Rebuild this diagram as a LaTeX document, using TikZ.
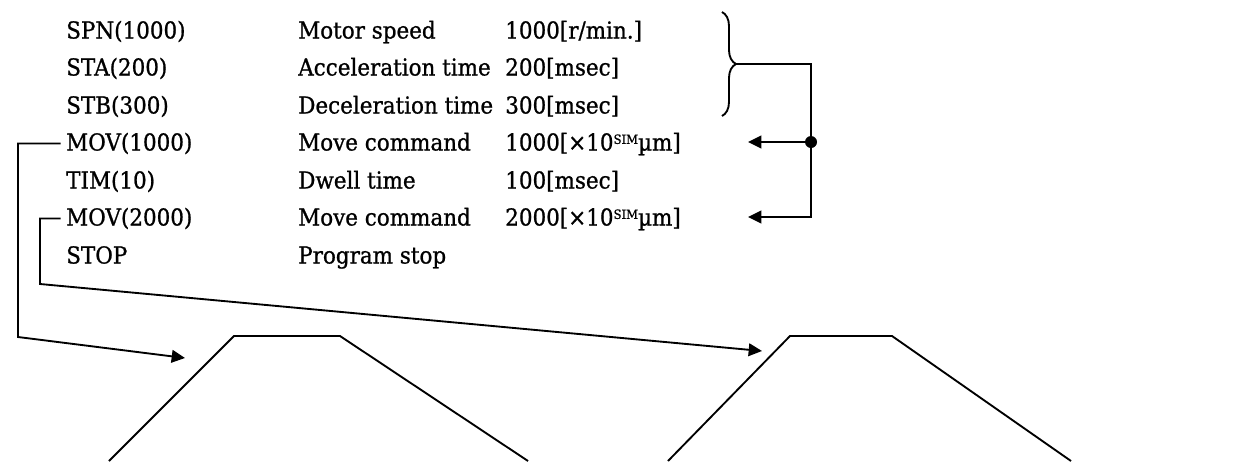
\documentclass[tikz,border=0pt]{standalone}
\usepackage{fontspec}
\setmainfont{DejaVu Serif}[FakeStretch=0.92, FakeBold=0.9]
\usetikzlibrary{arrows.meta,decorations.pathreplacing}

\newcommand{\simunit}{\raisebox{0.55ex}{\fontsize{9.5}{10}\selectfont SIM}}

\begin{document}
\begin{tikzpicture}[
  x=0.75pt, y=-0.75pt,
  font=\fontsize{17.5}{21}\selectfont,
  cmd/.style={anchor=base west, inner sep=0pt},
  line/.style={line width=1.4pt, draw=black},
  arr/.style={line, -{Triangle[length=10pt, width=9.5pt]}},
  trap/.style={line width=1.4pt, line join=miter}
]
\useasboundingbox (0,0) rectangle (1247,461);

% ---------------- program listing ----------------
\node[cmd] (spn)  at (66,38.5)  {SPN(1000)};
\node[cmd] (sta)  at (66,75.5)  {STA(200)};
\node[cmd] (stb)  at (66,113.5) {STB(300)};
\node[cmd] (mova) at (66,150.5) {MOV(1000)};
\node[cmd] (tim)  at (66,188.5) {TIM(10)};
\node[cmd] (movb) at (66,225.5) {MOV(2000)};
\node[cmd] (stop) at (66,263.5) {STOP};

\node[cmd] (spnd)  at (298,38.5)  {Motor speed};
\node[cmd] (stad)  at (298,75.5)  {Acceleration time};
\node[cmd] (stbd)  at (298,113.5) {Deceleration time};
\node[cmd] (movad) at (298,150.5) {Move command};
\node[cmd] (timd)  at (298,188.5) {Dwell time};
\node[cmd] (movbd) at (298,225.5) {Move command};
\node[cmd] (stopd) at (298,263.5) {Program stop};

\node[cmd] (spnv)  at (505,38.5)  {1000[r/min.]};
\node[cmd] (stav)  at (505,75.5)  {200[msec]};
\node[cmd] (stbv)  at (505,113.5) {300[msec]};
\node[cmd] (movav) at (505,150.5) {1000[×10\simunit µm]};
\node[cmd] (timv)  at (505,188.5) {100[msec]};
\node[cmd] (movbv) at (505,225.5) {2000[×10\simunit µm]};

% ---------------- brace: parameters apply to both moves ----------------
\coordinate (bt) at (722,12);
\coordinate (bb) at (722,116);
\coordinate (btip) at (736,64);
\coordinate (cJ) at (811,217);
\coordinate (tipA) at (748,142);
\coordinate (tipB) at (748,217);
\draw[line, decorate, decoration={brace, amplitude=10.5pt}] (bt) -- (bb);
\node[circle, fill=black, inner sep=0pt, minimum size=9pt] (jn) at (811,142) {};
\draw[arr] (btip) -| (cJ) -- (tipB);
\draw[arr] (jn) -- (tipA);

% ---------------- moves to velocity profiles ----------------
\coordinate (cA) at (18,337);
\coordinate (cB) at (40,284);
\coordinate (tip1) at (185,358);
\coordinate (tip2) at (762,351);
\draw[arr] ([xshift=-4pt]mova.west) -| (cA) -- (tip1);
\draw[arr] ([xshift=-4pt]movb.west) -| (cB) -- (tip2);

\draw[trap] (109,461) -- (234,336) -- (340,336) -- (528,461);
\draw[trap] (668,461) -- (790,336) -- (892,336) -- (1071,461);

\end{tikzpicture}
\end{document}
